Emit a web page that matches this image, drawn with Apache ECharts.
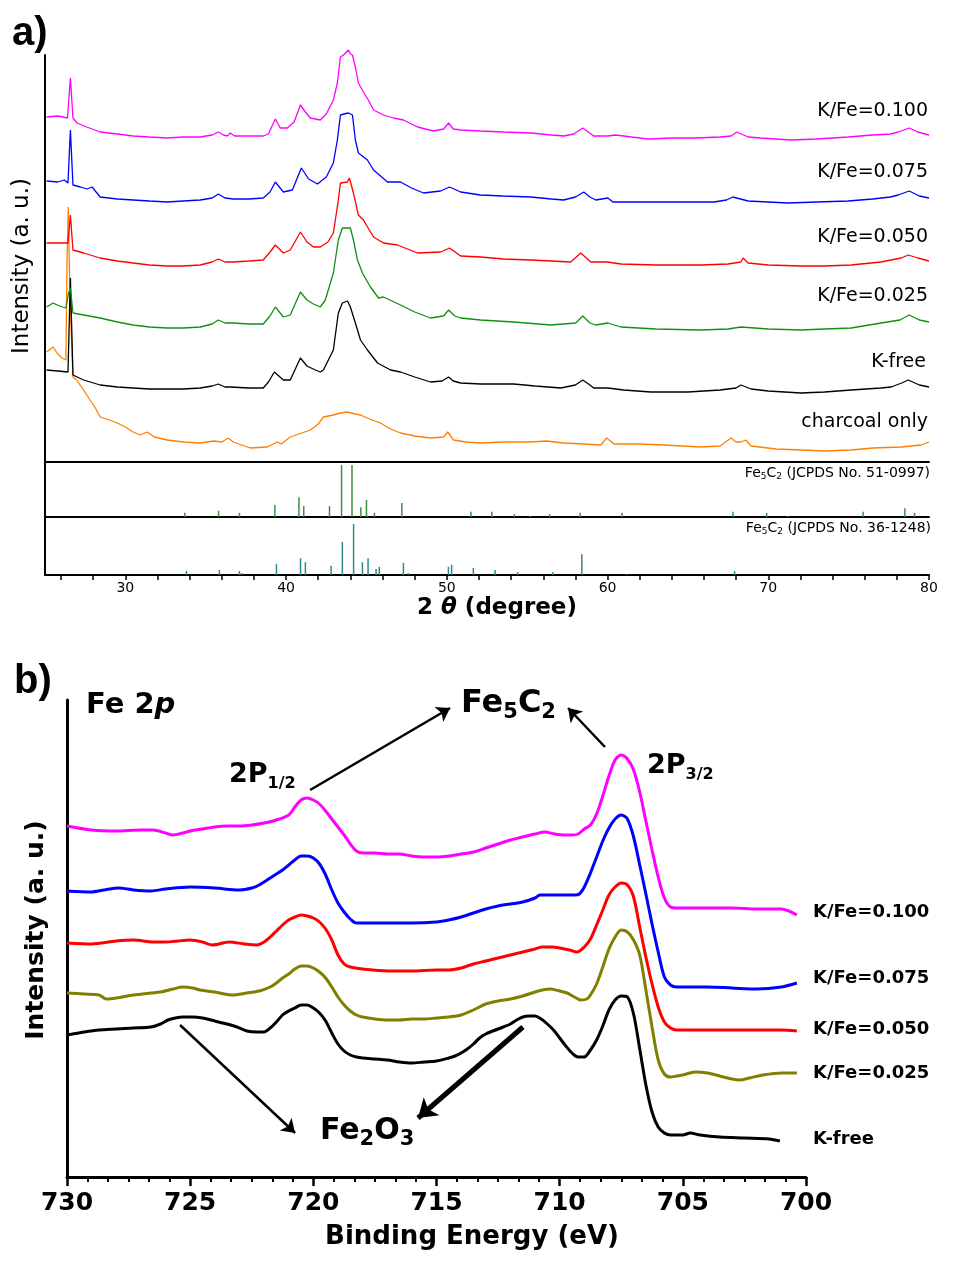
<!DOCTYPE html>
<html><head><meta charset="utf-8">
<script src="https://cdn.jsdelivr.net/npm/echarts@6.0.0/dist/echarts.min.js"></script>
<style>html,body{margin:0;padding:0;background:#fff}#c{width:958px;height:1275px}</style>
</head><body><div id="c"></div>
<script>
// ---------- Panel a: XRD patterns [2theta (deg), intensity (a.u., stacked)] ----------
const xrdKFe0100 = [[25.1,345],[25.8,346],[26.4,344],[26.58,384],[26.74,344],[26.99,339],[27.6,335],[28.43,330],[29.5,328],[30.48,326],[31.5,325],[32.6,324],[33.6,325],[34.66,325],[35.4,327],[35.78,330],[36.1,327],[36.34,326],[36.53,329],[36.8,326],[37.77,326],[38.58,326],[38.9,328],[39.33,343],[39.64,334],[40.08,334],[40.5,340],[40.89,357],[41.2,350],[41.51,344],[42.13,342],[42.5,348],[42.94,362],[43.19,379],[43.38,405],[43.57,407],[43.69,409],[43.88,412],[44.0,408],[44.13,407],[44.31,395],[44.5,379],[44.81,370],[45.12,362],[45.44,352],[46.06,347],[46.68,344],[47.3,342],[48.18,335],[49.17,331],[49.8,333],[50.11,339],[50.4,333],[50.86,332],[52.1,331],[53.5,330],[55.22,329],[56.5,327],[57.27,326],[57.9,328],[58.46,334],[58.8,330],[59.14,326],[60.02,326],[60.5,327],[61.5,325],[62.51,323],[64,324],[65.5,324],[67.0,325],[67.68,326],[68.05,330],[68.18,329],[68.74,325],[69.5,324],[71.42,322],[73.0,323],[74.97,325],[76.5,327],[77.6,328],[78.08,330],[78.77,334],[79.3,330],[80,327]];
const xrdKFe0075 = [[25.1,281],[25.8,280],[26.2,282],[26.43,279],[26.58,332],[26.74,277],[27.2,275],[27.6,273],[27.93,275],[28.43,265],[29.5,263],[30.48,262],[31.5,261],[32.6,260],[33.6,261],[34.66,262],[35.4,264],[35.78,268],[36.2,264],[36.71,263],[37.7,263],[38.58,264],[39.0,270],[39.33,280],[39.83,270],[40.39,272],[40.95,294],[41.4,283],[41.95,278],[42.5,285],[42.94,299],[43.19,322],[43.38,347],[43.6,348],[43.88,349],[44.13,347],[44.31,322],[44.5,309],[45.06,302],[45.44,292],[46.31,280],[47.12,280],[47.8,274],[48.55,269],[49.61,271],[50.17,275],[50.86,270],[52.1,267],[53.5,266],[55.22,265],[56.5,263],[57.27,262],[58.0,265],[58.52,270],[58.9,265],[59.27,262],[60.02,264],[60.33,260],[62,260],[64,260],[66.62,260],[67.4,262],[67.8,265],[68.74,261],[70,260],[71.23,259],[73,260],[74.97,261],[76.5,263],[77.6,265],[78.08,267],[78.77,271],[79.4,266],[80,264]];
const xrdKFe0050 = [[25.1,219],[25.8,219],[26.43,219],[26.58,247],[26.74,212],[27.4,209],[28.43,204],[29.5,201],[30.48,199],[31.5,197],[32.6,196],[33.6,196],[34.66,197],[35.4,200],[35.78,203],[36.2,200],[36.71,200],[37.7,201],[38.58,202],[39.0,210],[39.33,217],[39.83,209],[40.26,212],[40.89,230],[41.3,220],[41.7,215],[42.13,215],[42.6,220],[42.94,229],[43.25,262],[43.38,279],[43.82,280],[43.94,284],[44.19,269],[44.5,247],[44.81,242],[45.44,225],[46.06,219],[46.93,217],[48.18,209],[49.61,210],[50.17,214],[50.86,206],[52.1,205],[53.5,203],[55.22,202],[56.5,201],[57.71,200],[58.33,209],[58.96,200],[60.0,200],[60.83,198],[63,197],[65.81,197],[67.5,198],[68.3,200],[68.43,204],[68.74,199],[70,197],[72.04,196],[73.5,196],[75.16,197],[77,200],[78.27,204],[78.71,207],[79.3,204],[80,201]];
const xrdKFe0025 = [[25.1,155],[25.5,159],[25.9,156],[26.3,154],[26.45,168],[26.58,174],[26.74,149],[27.4,147],[28.43,144],[29.5,140],[30.48,137],[31.5,135],[32.6,134],[33.6,134],[34.66,135],[35.4,138],[35.78,142],[36.2,139],[36.71,139],[37.7,138],[38.58,138],[39.0,146],[39.33,155],[39.83,145],[40.26,147],[40.89,170],[41.3,162],[41.7,158],[42.13,155],[42.44,162],[42.94,189],[43.25,222],[43.5,234],[44.0,234],[44.19,222],[44.44,202],[44.75,189],[45.25,175],[45.75,164],[46.06,165],[47.12,157],[48.0,150],[48.99,144],[49.8,146],[50.11,152],[50.5,146],[50.86,144],[52.1,142],[54.16,140],[56.46,137],[58.02,139],[58.46,146],[58.9,139],[59.27,137],[60.02,139],[60.83,135],[63,133],[65.81,132],[67.5,133],[68.3,135],[70,133],[72.04,132],[73.5,133],[75.16,134],[77.02,139],[78.2,142],[78.77,147],[79.4,142],[80,140]];
const xrdKFree = [[25.1,92],[25.8,91],[26.43,90],[26.58,184],[26.74,87],[27.4,82],[28.43,77],[29.5,75],[30.48,74],[31.5,73],[32.6,73],[33.6,73],[34.66,74],[35.4,76],[35.78,78],[36.2,75],[36.53,75],[37.7,74],[38.58,74],[38.9,80],[39.27,90],[39.83,82],[40.26,82],[40.89,104],[41.3,96],[41.82,92],[42.13,90],[42.32,92],[42.94,112],[43.25,149],[43.5,159],[43.82,161],[44.0,155],[44.31,139],[44.63,122],[45.06,112],[45.69,99],[46.5,92],[47.12,90],[48.0,85],[48.99,80],[49.7,81],[50.11,85],[50.4,81],[50.86,79],[52.1,78],[54.16,78],[55.5,76],[57.09,74],[58.0,77],[58.46,82],[58.9,77],[59.14,74],[60.02,74],[61,72],[62.69,70],[65,70],[67.0,72],[67.99,74],[68.3,77],[68.93,73],[70,71],[72.04,69],[73.5,70],[75.16,72],[77.0,74],[77.65,75],[78.3,79],[78.71,82],[79.4,77],[80,75]];
const xrdCharcoal = [[25.1,110],[25.5,115],[25.8,108],[26.06,104],[26.3,102],[26.37,200],[26.45,255],[26.56,160],[26.74,85],[26.97,82],[27.4,72],[27.8,62],[28.1,55],[28.43,45],[29.0,42],[29.49,39],[30.0,35],[30.48,30],[30.92,27],[31.36,30],[31.8,25],[32.6,22],[33.6,20],[34.66,19],[35.5,21],[36.0,20],[36.4,24],[36.71,20],[37.77,14],[38.83,15],[39.45,20],[39.7,18],[40.26,25],[40.8,28],[41.51,32],[42.0,38],[42.32,45],[42.94,47],[43.4,49],[43.82,50],[44.3,48],[44.63,47],[45.2,43],[45.87,39],[46.5,33],[47.12,29],[48.0,26],[48.99,24],[49.8,25],[50.05,30],[50.42,22],[51.2,20],[52.1,19],[53.5,20],[55.22,20],[56.2,21],[57.27,19],[58.5,18],[59.58,17],[59.95,24],[60.39,18],[62,18],[63.5,17],[65.81,15],[67.0,16],[67.68,24],[68.0,20],[68.3,20],[68.61,22],[68.93,16],[70.5,13],[72.04,12],[73.5,11],[75.16,12],[76.5,14],[78.27,15],[79.5,17],[80,20]];
// reference stick patterns [2theta, relative intensity %]
const jcpds510997 = [[33.7,8],[35.8,12],[37.1,8],[39.3,23],[40.8,38],[41.1,21],[42.7,21],[43.45,100],[44.1,100],[44.65,19],[45.0,33],[45.5,8],[47.2,27],[51.5,10],[52.8,10],[54.2,6],[55.2,2],[56.4,6],[58.3,8],[60.9,8],[67.8,10],[69.9,8],[71.2,2],[75.9,10],[78.5,17],[79.1,8]];
const jcpds361248 = [[33.8,8],[35.85,10],[37.1,8],[37.25,4],[39.4,22],[40.9,33],[41.2,25],[42.8,18],[43.5,65],[44.2,100],[44.75,25],[45.1,33],[45.6,12],[45.8,16],[47.3,24],[47.6,4],[50.1,16],[50.3,20],[51.65,14],[53.0,10],[54.4,6],[56.6,6],[58.4,41],[61.2,2],[67.9,8]];
const xrdTickValues = [26,28,30,32,34,36,38,40,42,44,46,48,50,52,54,56,58,60,62,64,66,68,70,72,74,76,78,80];
const xrdLabelValues = [30,40,50,60,70,80];

// ---------- Panel b: XPS Fe 2p [binding energy (eV), intensity (a.u., stacked)] ----------
const xpsKFe0100 = [[730,351],[729,347],[728,346],[727,347],[726.5,347],[726,344],[725.7,342],[725.3,344],[725,346],[724.5,348],[724,350],[723.5,351],[723,351],[722.5,352],[722,354],[721.5,357],[721,362],[720.75,370],[720.5,377],[720.25,379],[720,377],[719.75,373],[719.5,366],[719.25,358],[719,350],[718.75,342],[718.5,333],[718.25,326],[718,324],[717.5,324],[717,323],[716.5,323],[716,321],[715.5,320],[715,320],[714.5,321],[714,323],[713.5,325],[713,329],[712.5,333],[712,337],[711.5,340],[711,343],[710.6,345],[710.2,343],[709.8,342],[709.5,342],[709.25,343],[709,348],[708.75,352],[708.5,363],[708.25,381],[708,401],[707.75,417],[707.5,422],[707.25,418],[707,407],[706.75,385],[706.5,356],[706.25,327],[706,300],[705.75,279],[705.5,270],[705.25,269],[705,269],[704.5,269],[704,269],[703,269],[702,268],[701,268],[700.7,266],[700.37,262]];
const xpsKFe0075 = [[730,286],[729,285],[728.5,287],[727.9,289],[727.3,287],[726.6,286],[726,288],[725,290],[724,289],[723,287],[722.5,289],[722.2,292],[721.75,299],[721.5,303],[721.25,307],[721,312],[720.75,317],[720.5,321],[720.25,321],[720,319],[719.75,313],[719.5,302],[719.25,287],[719,274],[718.75,265],[718.5,258],[718.25,254],[718,254],[717,254],[716,254],[715,255],[714.5,257],[714,260],[713.5,264],[713,268],[712.5,271],[712,273],[711.5,275],[711,279],[710.8,282],[710.2,282],[709.6,282],[709.4,282],[709.2,283],[709,290],[708.75,304],[708.5,320],[708.25,336],[708,349],[707.75,358],[707.5,362],[707.25,358],[707,340],[706.75,312],[706.5,283],[706.25,253],[706,225],[705.75,200],[705.5,192],[705.25,190],[705,190],[704,190],[703,189],[702,188],[701,190],[700.37,194]];
const xpsKFe0050 = [[730,234],[729,233],[728,236],[727.3,237],[726.5,235],[726,235],[725.5,236],[725,237],[724.5,235],[724.1,232],[723.4,235],[722.8,233],[722.3,232],[722,235],[721.75,240],[721.5,246],[721.25,252],[721,257],[720.75,260],[720.5,262],[720.25,261],[720,259],[719.75,255],[719.5,248],[719.25,237],[719,222],[718.75,213],[718.5,210],[718,208],[717,206],[716,206],[715,207],[714.5,207],[714,209],[713.5,213],[713,216],[712.5,219],[712,222],[711.5,225],[711,228],[710.7,230],[710.3,230],[710,229],[709.6,227],[709.3,225],[709,230],[708.75,238],[708.5,252],[708.25,267],[708,282],[707.75,290],[707.5,294],[707.25,292],[707,280],[706.75,250],[706.5,220],[706.25,193],[706,170],[705.75,155],[705.5,149],[705.25,147],[705,147],[704,147],[703,147],[702,147],[701,147],[700.37,146]];
const xpsKFe0025 = [[730,184],[729.3,183],[728.7,182],[728.4,178],[728,179],[727.3,182],[726.6,184],[726.2,185],[725.7,188],[725.3,190],[724.9,189],[724.6,187],[724,185],[723.3,182],[722.7,184],[722.2,186],[721.75,190],[721.5,194],[721.25,199],[721,203],[720.75,208],[720.5,211],[720.25,211],[720,209],[719.75,205],[719.5,199],[719.25,190],[719,180],[718.75,172],[718.5,166],[718.25,162],[718,160],[717.5,158],[717,157],[716.5,157],[716,158],[715.5,158],[715,159],[714.5,160],[714,162],[713.5,167],[713,173],[712.5,176],[712,178],[711.5,181],[711,185],[710.7,187],[710.4,188],[710,186],[709.7,184],[709.4,180],[709.15,177],[708.9,178],[708.75,182],[708.5,193],[708.25,210],[708,228],[707.75,240],[707.5,247],[707.25,245],[707,237],[706.75,222],[706.5,187],[706.25,150],[706,117],[705.75,103],[705.5,100],[705.25,101],[705,102],[704.5,105],[704,104],[703.5,101],[703,98],[702.7,97],[702.3,99],[701.75,102],[701,104],[700.37,104]];
const xpsKFree = [[730,142],[729.3,145],[728.7,147],[728,148],[727.3,149],[726.6,150],[726.2,153],[725.9,157],[725.6,159],[725.3,160],[724.9,160],[724.5,159],[724,156],[723.5,153],[723.1,150],[722.7,146],[722.3,145],[722,145],[721.75,149],[721.5,155],[721.25,162],[721,166],[720.75,169],[720.5,172],[720.25,172],[720,169],[719.75,164],[719.5,156],[719.25,144],[719,133],[718.75,126],[718.5,122],[718.25,120],[718,119],[717.5,118],[717,117],[716.5,115],[716,114],[715.5,115],[715,116],[714.5,119],[714.25,121],[714,124],[713.75,128],[713.5,133],[713.25,139],[713,143],[712.5,148],[712,153],[711.75,157],[711.5,160],[711.25,161],[711,161],[710.75,158],[710.5,153],[710.25,147],[710,139],[709.75,131],[709.5,124],[709.25,120],[709,120],[708.75,127],[708.5,137],[708.25,151],[708,167],[707.75,177],[707.5,181],[707.25,180],[707,163],[706.75,128],[706.5,92],[706.25,65],[706,50],[705.75,44],[705.5,42],[705,42],[704.7,44],[704.3,42],[703.5,40],[702.5,39],[701.5,38],[701.06,36]];
// annotation arrows in data coords [[fromEV, fromI], [toEV, toI]]
const arrowsFe5C2 = [[[720.13,387],[714.45,469]], [[708.16,430],[709.66,469]]];
const arrowFe2O3Thin = [[725.41,152],[720.74,44]];
const arrowFe2O3Thick = [[711.49,150],[715.75,59]];

const F = 'DejaVu Sans';
const chart = echarts.init(document.getElementById('c'), null, {renderer: 'canvas'});
const line2 = {show: true, onZero: false, lineStyle: {color: '#000', width: 2}};
const none = {show: false};
function plainX(i) {
  return {gridIndex: i, type: 'value', min: 25, max: 80, axisLine: line2, axisTick: none, axisLabel: none, splitLine: none};
}
function plainY(i, max) {
  return {gridIndex: i, type: 'value', min: 0, max: max, axisLine: line2, axisTick: none, axisLabel: none, splitLine: none};
}
function xrdLine(data, color) {
  return {type: 'line', xAxisIndex: 0, yAxisIndex: 0, data: data, symbol: 'none', showSymbol: false, clip: false, silent: true,
    lineStyle: {color: color, width: 1.3}};
}
function xpsLine(data, color, extra) {
  return Object.assign({type: 'line', xAxisIndex: 3, yAxisIndex: 3, data: data, symbol: 'none', showSymbol: false, smooth: 0.3, silent: true,
    lineStyle: {color: color, width: 3}}, extra || {});
}
function arrowPair(a, width, size) {
  return [{coord: a[0], lineStyle: {width: width, color: '#000', type: 'solid'}, symbolSize: size},
          {coord: a[1], lineStyle: {width: width, color: '#000', type: 'solid'}, symbolSize: size}];
}
function txt(x, y, text, opts) {
  return Object.assign({type: 'text', x: x, y: y, silent: true,
    style: Object.assign({text: text, fill: '#000', fontFamily: F, fontSize: 18, align: 'left', verticalAlign: 'middle'}, opts.style || {})},
    opts.rotation ? {rotation: opts.rotation} : {});
}
const subA = {sub: {fontFamily: F, fontSize: 9, padding: [7, 0, 0, 0]}};
const subB = function (fs, pad) { return {sub: {fontFamily: F, fontSize: fs, fontWeight: 'bold', padding: [pad, 0, 0, 0]}}; };

const option = {
  animation: false,
  backgroundColor: '#fff',
  grid: [
    {left: 45, top: 55, width: 884, height: 407},
    {left: 45, top: 462, width: 884, height: 55},
    {left: 45, top: 517, width: 884, height: 58},
    {left: 67, top: 700, width: 739, height: 477}
  ],
  xAxis: [
    plainX(0), plainX(1),
    {gridIndex: 2, type: 'value', min: 25, max: 80, axisLine: line2,
      axisTick: {show: true, customValues: xrdTickValues, length: 5, lineStyle: {color: '#000', width: 1.5}},
      axisLabel: {show: true, customValues: xrdLabelValues, margin: 6, color: '#000', fontFamily: F, fontSize: 14},
      splitLine: none},
    {gridIndex: 3, type: 'value', min: 700, max: 730, interval: 5, inverse: true,
      axisLine: {show: true, onZero: false, lineStyle: {color: '#000', width: 3}},
      axisTick: {show: true, length: 9, lineStyle: {color: '#000', width: 2.5}},
      minorTick: {show: true, splitNumber: 6, length: 5, lineStyle: {color: '#000', width: 2}},
      axisLabel: {margin: 14, color: '#000', fontFamily: F, fontWeight: 'bold', fontSize: 25},
      splitLine: none, minorSplitLine: none}
  ],
  yAxis: [
    plainY(0, 407), plainY(1, 106), plainY(2, 114),
    {gridIndex: 3, type: 'value', min: 0, max: 477, axisLine: {show: true, onZero: false, lineStyle: {color: '#000', width: 3}},
      axisTick: none, axisLabel: none, splitLine: none}
  ],
  series: [
    xrdLine(xrdCharcoal, '#ff8000'),
    xrdLine(xrdKFree, '#000000'),
    xrdLine(xrdKFe0025, '#119011'),
    xrdLine(xrdKFe0050, '#ff0000'),
    xrdLine(xrdKFe0075, '#0000ff'),
    xrdLine(xrdKFe0100, '#ff00ff'),
    {type: 'bar', xAxisIndex: 1, yAxisIndex: 1, data: jcpds510997, barWidth: 1.5, silent: true, itemStyle: {color: '#3f8f3f'}},
    {type: 'bar', xAxisIndex: 2, yAxisIndex: 2, data: jcpds361248, barWidth: 1.5, silent: true, itemStyle: {color: '#2f8a8a'}},
    xpsLine(xpsKFe0100, '#ff00ff'),
    xpsLine(xpsKFe0075, '#0000ff'),
    xpsLine(xpsKFe0050, '#ff0000'),
    xpsLine(xpsKFe0025, '#808000'),
    xpsLine(xpsKFree, '#000000', {
      markLine: {silent: true, symbol: ['none', 'arrow'], symbolSize: 12, label: none, animation: false,
        lineStyle: {color: '#000', width: 2.5, type: 'solid'},
        data: [arrowPair(arrowsFe5C2[0], 2.5, 13), arrowPair(arrowsFe5C2[1], 2.5, 13),
               arrowPair(arrowFe2O3Thin, 2.5, 13), arrowPair(arrowFe2O3Thick, 5, 18)]}
    })
  ],
  graphic: [
    txt(12, 34, 'a)', {style: {fontFamily: 'Liberation Sans', fontWeight: 'bold', fontSize: 40}}),
    txt(14, 682, 'b)', {style: {fontFamily: 'Liberation Sans', fontWeight: 'bold', fontSize: 40}}),
    // panel a
    txt(22, 266, 'Intensity (a. u.)', {rotation: Math.PI / 2, style: {fontSize: 23, align: 'center'}}),
    txt(497, 608, '2 {it|θ} (degree)', {style: {fontSize: 23, fontWeight: 'bold', align: 'center',
      rich: {it: {fontFamily: F, fontSize: 23, fontWeight: 'bold', fontStyle: 'italic'}}}}),
    txt(928, 111, 'K/Fe=0.100', {style: {fontSize: 19, align: 'right'}}),
    txt(928, 172, 'K/Fe=0.075', {style: {fontSize: 19, align: 'right'}}),
    txt(928, 237, 'K/Fe=0.050', {style: {fontSize: 19, align: 'right'}}),
    txt(928, 296, 'K/Fe=0.025', {style: {fontSize: 19, align: 'right'}}),
    txt(926, 362, 'K-free', {style: {fontSize: 19, align: 'right'}}),
    txt(928, 422, 'charcoal only', {style: {fontSize: 19, align: 'right'}}),
    txt(930, 473, 'Fe{sub|5}C{sub|2} (JCPDS No. 51-0997)', {style: {fontSize: 14, align: 'right', rich: subA}}),
    txt(931, 528, 'Fe{sub|5}C{sub|2} (JCPDS No. 36-1248)', {style: {fontSize: 14, align: 'right', rich: subA}}),
    // panel b
    txt(36, 930, 'Intensity (a. u.)', {rotation: Math.PI / 2, style: {fontSize: 25, fontWeight: 'bold', align: 'center'}}),
    txt(472, 1237, 'Binding Energy (eV)', {style: {fontSize: 26, fontWeight: 'bold', align: 'center'}}),
    txt(86, 705, 'Fe 2{it|p}', {style: {fontSize: 29, fontWeight: 'bold',
      rich: {it: {fontFamily: F, fontSize: 29, fontWeight: 'bold', fontStyle: 'italic'}}}}),
    txt(229, 775, '2P{sub|1/2}', {style: {fontSize: 27, fontWeight: 'bold', rich: subB(16, 18)}}),
    txt(647, 766, '2P{sub|3/2}', {style: {fontSize: 27, fontWeight: 'bold', rich: subB(16, 18)}}),
    txt(461, 704, 'Fe{sub|5}C{sub|2}', {style: {fontSize: 32, fontWeight: 'bold', rich: subB(21, 18)}}),
    txt(320, 1131, 'Fe{sub|2}O{sub|3}', {style: {fontSize: 30, fontWeight: 'bold', rich: subB(21, 18)}}),
    txt(813, 912, 'K/Fe=0.100', {style: {fontSize: 18, fontWeight: 'bold'}}),
    txt(813, 978, 'K/Fe=0.075', {style: {fontSize: 18, fontWeight: 'bold'}}),
    txt(813, 1029, 'K/Fe=0.050', {style: {fontSize: 18, fontWeight: 'bold'}}),
    txt(813, 1073, 'K/Fe=0.025', {style: {fontSize: 18, fontWeight: 'bold'}}),
    txt(813, 1139, 'K-free', {style: {fontSize: 18, fontWeight: 'bold'}})
  ]
};
chart.setOption(option);
</script></body></html>
